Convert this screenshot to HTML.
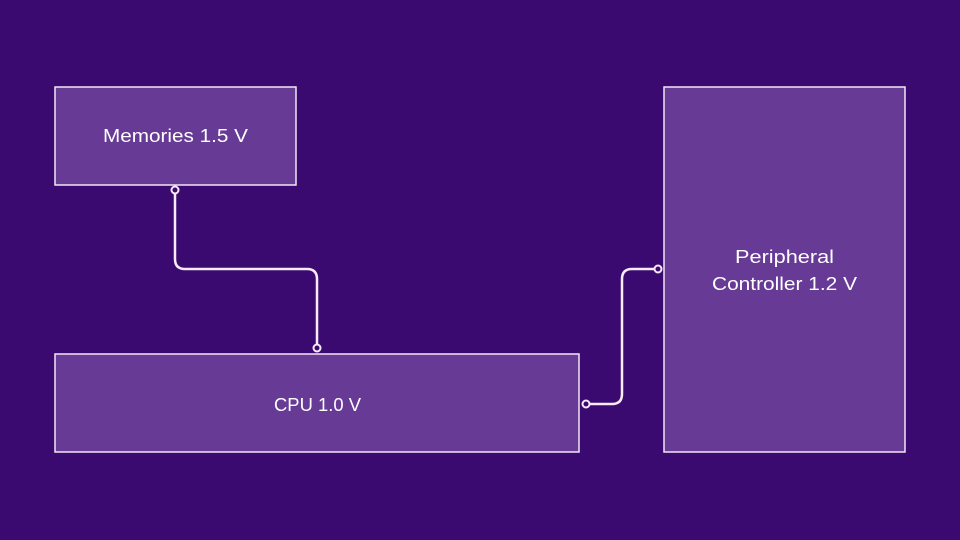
<!DOCTYPE html>
<html><head><style>
html,body{margin:0;width:960px;height:540px;background:#3b0a70;overflow:hidden;font-family:"Liberation Sans",sans-serif}
svg{display:block}
</style></head><body>
<svg width="960" height="540" xmlns="http://www.w3.org/2000/svg">
<rect width="960" height="540" fill="#3b0a70"/>
<g fill="#673a96" stroke="#f3e6f3" stroke-width="1.5">
<rect x="55" y="87" width="241" height="98"/>
<rect x="55" y="354" width="524" height="98"/>
<rect x="664" y="87" width="241" height="365"/>
</g>
<g fill="none" stroke="#f8eaf6" stroke-width="2.5">
<path d="M175 194 V259 Q175 269 185 269 H307 Q317 269 317 279 V344"/>
<path d="M590 404 H612 Q622 404 622 394 V279 Q622 269 632 269 H654"/>
</g>
<g fill="#3b0a70" stroke="#f8eaf6" stroke-width="2">
<circle cx="175" cy="190" r="3.5"/>
<circle cx="317" cy="348" r="3.5"/>
<circle cx="586" cy="404" r="3.5"/>
<circle cx="658" cy="269" r="3.5"/>
</g>
<g fill="#ffffff" font-size="18" text-anchor="middle" font-family="Liberation Sans, sans-serif">
<text x="175.5" y="142" textLength="145" lengthAdjust="spacingAndGlyphs">Memories 1.5 V</text>
<text x="317.5" y="411" textLength="87" lengthAdjust="spacingAndGlyphs">CPU 1.0 V</text>
<text x="784.5" y="263" textLength="99" lengthAdjust="spacingAndGlyphs">Peripheral</text>
<text x="784.5" y="290" textLength="145" lengthAdjust="spacingAndGlyphs">Controller 1.2 V</text>
</g>
</svg>
</body></html>
